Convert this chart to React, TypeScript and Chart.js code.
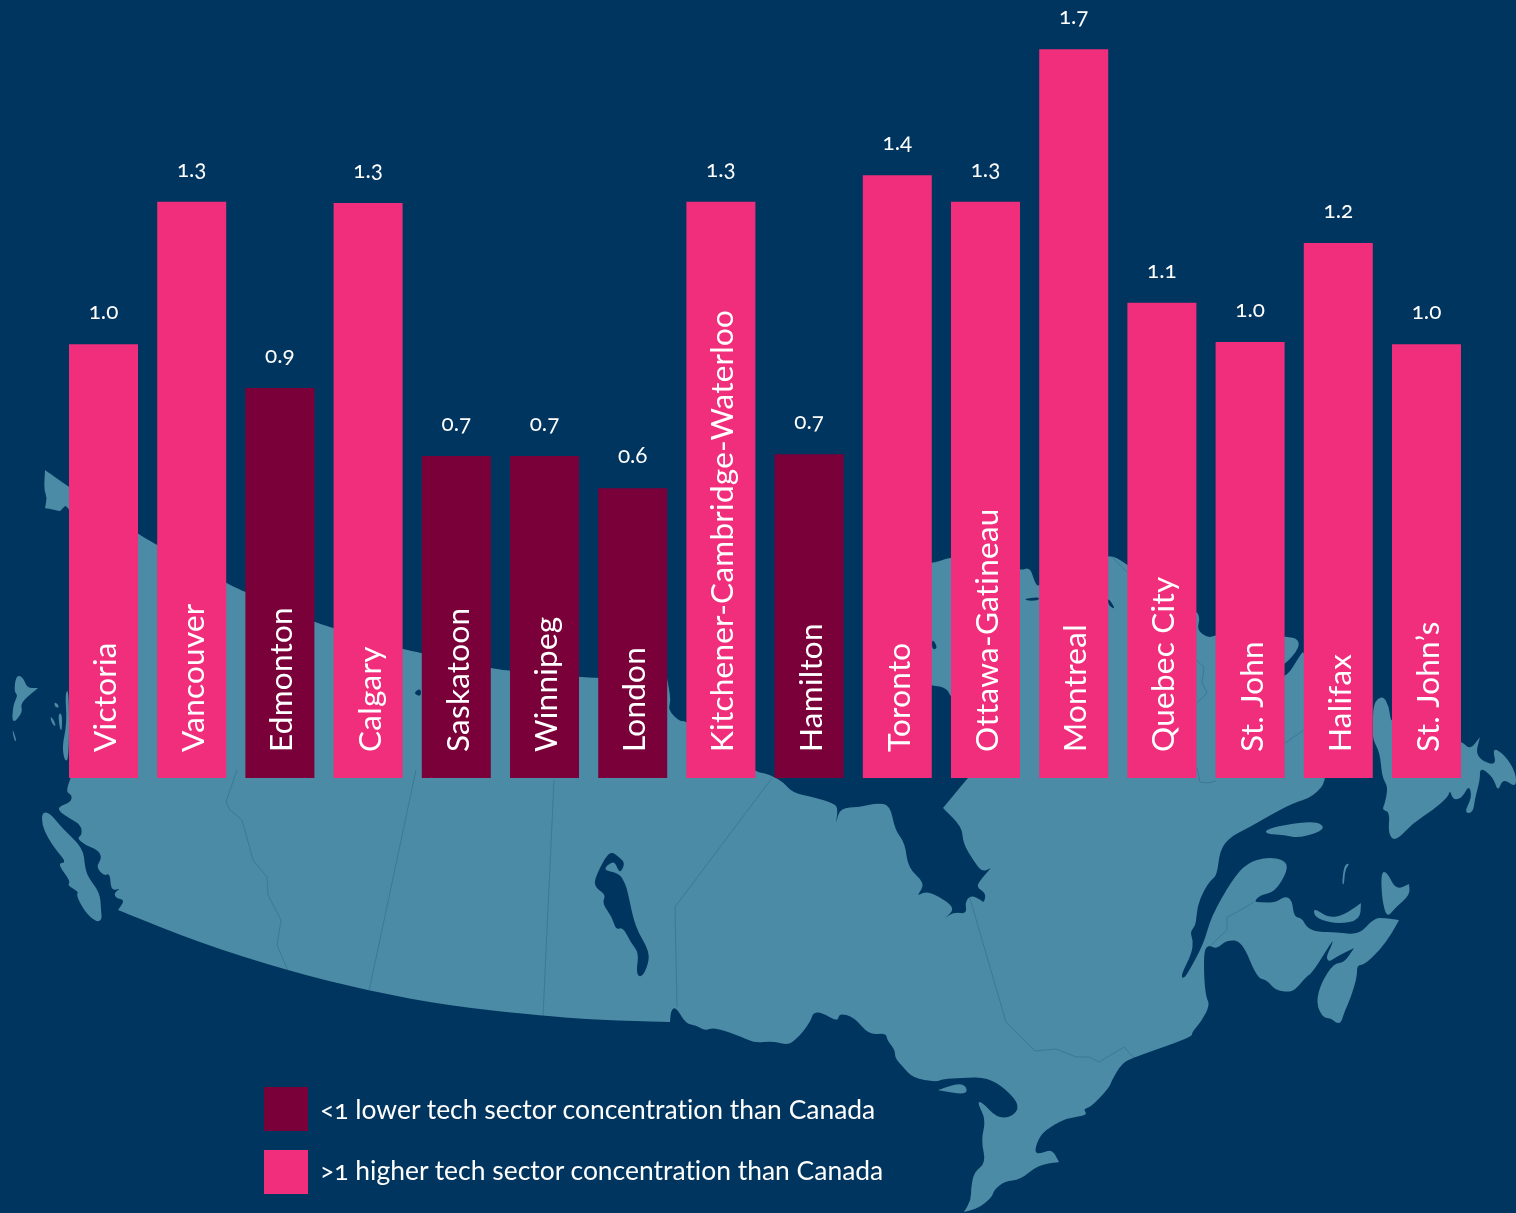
import React, { useEffect, useRef, useState } from "react";
import { Chart, registerables } from "chart.js";

Chart.register(...registerables);

const cities = ["Victoria","Vancouver","Edmonton","Calgary","Saskatoon","Winnipeg","London","Kitchener-Cambridge-Waterloo","Hamilton","Toronto","Ottawa-Gatineau","Montreal","Quebec City","St. John","Halifax","St. John’s"];
const concentration = [1.009,1.34,0.907,1.337,0.749,0.749,0.674,1.34,0.753,1.402,1.34,1.695,1.105,1.014,1.244,1.009];
const valueLabels = ["1.0","1.3","0.9","1.3","0.7","0.7","0.6","1.3","0.7","1.4","1.3","1.7","1.1","1.0","1.2","1.0"];
const legendLower = "<1 lower tech sector concentration than Canada";
const legendHigher = ">1 higher tech sector concentration than Canada";

const BG = "#00355f";
const LAND = "#4b8ba6";
const PINK = "#f02e7b";
const MAROON = "#7a0039";
const FONT = "Lato";

type P = number[];
const mainland: P = [45,470,45,470,69,487,138,534,157,545,226,583,245,592,314,622,333,628,402,649,421,653,490,668,510,671,579,677,598,678,667,678,667,678,671,700,668,710,680,722,686,720,755,772,765,773,774,777,783,782,793,793,813,797,833,803,838,808,836,823,836,823,840,808,860,807,877,803,890,805,895,830,905,843,908,868,925,883,918,895,918,895,928,891,948,902,954,910,945,918,945,918,954,912,967,914,965,902,971,895,981,900,984,903,986,893,976,887,982,878,991,868,991,868,982,872,973,860,963,843,962,827,943,808,943,808,967,779,967,779,1000,750,951,698,947,688,932,685,920,685,920,563,932,563,940,561,951,557,1000,560,1020,571,1030,567,1035,583,1039,587,1060,570,1108,553,1127,564,1160,590,1196,610,1200,618,1197,630,1208,638,1216,635,1250,630,1285,637,1297,638,1300,647,1285,665,1270,670,1285,680,1302,652,1304,652,1320,700,1329,778,1313,797,1293,803,1267,817,1250,827,1230,837,1220,850,1217,875,1211,880,1204,890,1197,907,1196,925,1190,932,1193,940,1192,953,1181,975,1183,979,1188,973,1204,943,1211,917,1232,880,1247,863,1267,857,1285,860,1288,870,1275,892,1260,895,1254,902,1260,902,1275,903,1285,896,1292,900,1294,917,1302,918,1307,928,1318,932,1336,932,1359,935,1374,918,1385,918,1399,920,1399,920,1392,933,1380,950,1364,965,1357,965,1357,977,1351,997,1344,1013,1341,1023,1336,1023,1331,1018,1323,1018,1316,1003,1321,983,1334,963,1344,963,1354,948,1354,948,1336,957,1329,962,1326,957,1331,947,1334,938,1313,972,1306,977,1295,990,1288,992,1275,990,1267,980,1257,978,1242,941,1227,940,1219,947,1214,948,1209,945,1204,950,1204,977,1206,997,1210,1005,1201,1022,1192,1032,1192,1037,1135,1057,1122,1063,1112,1080,1109,1088,1091,1107,1083,1109,1088,1115,1068,1118,1053,1125,1040,1135,1034,1152,1040,1154,1052,1149,1059,1162,1059,1162,1038,1165,1020,1180,1005,1181,994,1190,992,1197,979,1208,964,1212,964,1212,971,1200,971,1188,974,1172,986,1163,981,1140,986,1120,977,1102,982,1102,997,1118,1012,1117,1020,1106,1007,1090,987,1077,961,1078,943,1079,936,1082,913,1078,903,1067,895,1058,895,1050,887,1040,886,1033,869,1035,854,1017,839,1013,838,1022,821,1012,813,1013,811,1020,803,1032,795,1040,788,1045,772,1041,755,1043,742,1037,714,1027,705,1031,696,1025,686,1024,676,1007,671,1010,670,1022,670,1022,600,1020,544,1016,450,1006,369,991,289,971,200,943,118,910,118,910,125,900,116,898,114,893,121,888,111,891,110,873,104,876,96,867,102,858,98,850,85,845,77,838,82,835,81,825,69,818,60,812,58,807,71,802,72,795,66,792,70,779,100,700,100,600,69,502,60,511,60,511,45,508,45,508,47,497,44,490];
const islands: P[] = [
  [938,1090,938,1090,959,1083,967,1087,966,1095],
  [1314,908,1329,918,1344,915,1361,903,1361,903,1360,920,1339,924,1321,920,1314,915],
  [1381,872,1387,872,1396,890,1409,884,1409,884,1410,895,1395,908,1387,918,1382,900],
  [1344,865,1350,863,1345,870,1344,885,1342,884],
  [1265,830,1283,825,1315,821,1325,827,1317,833,1297,838,1285,835,1267,834],
  [1373,703,1383,695,1389,707,1390,717,1392,722,1461,740,1470,750,1480,737,1480,737,1475,757,1497,767,1492,747,1505,755,1516,773,1516,788,1503,778,1498,792,1493,777,1480,767,1480,780,1475,798,1473,813,1464,813,1472,797,1469,785,1462,798,1453,800,1450,790,1448,797,1433,810,1413,823,1395,842,1388,833,1390,812,1382,810,1385,803,1388,787,1382,777,1380,753,1373,740,1373,730],
  [42,812,50,813,62,828,83,848,85,867,88,877,100,893,101,910,102,920,96,922,85,912,76,895,79,892,67,885,71,882,57,863,67,863,56,850,48,838,42,825],
  [16,675,23,677,27,688,38,688,38,688,20,703,23,712,12,725,13,705,18,695,14,692],
  [12,727,17,742,14,740],
  [69,689,65,693,67,723,62,747,65,762,69,758],
  [54,702,58,704,59,708,55,707],
  [50,716,54,720,56,727,52,724],
  [58,714,62,713,62,730,60,730],
];
const waters: P[] = [
  [606,856,612,852,619,857,625,863,621,872,618,870,614,860,602,870,619,873,625,883,628,893,635,927,650,952,647,968,641,978,636,973,639,953,631,943,623,927,616,930,612,917,602,903,606,895,596,888,594,880],
  [413,693,421,688,421,697],
  [932,638,938,648,932,650],
  [1023,599,1039,597,1039,600,1030,601],
  [1108,597,1116,610,1108,605],
];
const borders: P[] = [
  [237,770,226,802,230,810,242,820,253,860,267,877,268,895,281,920,277,945,288,971],
  [416,770,369,991],
  [554,780,543,1016],
  [772,778,675,907,677,1007],
  [969,895,1006,1022,1035,1051,1056,1049,1076,1057,1089,1057,1099,1062,1124,1047,1135,1059],
  [1211,945,1227,930,1227,917,1237,912,1254,902],
  [1196,660,1204,667,1202,683,1207,693,1197,703],
  [1197,768,1200,782,1208,783,1216,781],
  [1285,743,1304,730],
  [1108,553,1127,572],
];

function tracePoly(ctx: CanvasRenderingContext2D, p: P) {
  const n = p.length / 2;
  const mid = (i: number) => {
    const a = i % n, b = (i + 1) % n;
    return [(p[a * 2] + p[b * 2]) / 2, (p[a * 2 + 1] + p[b * 2 + 1]) / 2];
  };
  ctx.beginPath();
  const s = mid(n - 1);
  ctx.moveTo(s[0], s[1]);
  for (let i = 0; i < n; i++) {
    const m = mid(i);
    ctx.quadraticCurveTo(p[i * 2], p[i * 2 + 1], m[0], m[1]);
  }
  ctx.closePath();
}
function traceLine(ctx: CanvasRenderingContext2D, p: P) {
  ctx.beginPath();
  ctx.moveTo(p[0], p[1]);
  for (let i = 2; i < p.length; i += 2) ctx.lineTo(p[i], p[i + 1]);
}

const mapPlugin = {
  id: "canadaMap",
  beforeDraw(chart: any) {
    const ctx: CanvasRenderingContext2D = chart.ctx;
    ctx.save();
    ctx.fillStyle = BG;
    ctx.fillRect(0, 0, chart.width, chart.height);
    ctx.fillStyle = LAND;
    tracePoly(ctx, mainland);
    ctx.fill();
    islands.forEach((p) => { tracePoly(ctx, p); ctx.fill(); });
    ctx.fillStyle = BG;
    waters.forEach((p) => { tracePoly(ctx, p); ctx.fill(); });
    ctx.strokeStyle = "rgba(0,53,95,0.3)";
    ctx.lineWidth = 0.7;
    borders.forEach((p) => { traceLine(ctx, p); ctx.stroke(); });
    ctx.restore();
  },
};

const labelPlugin = {
  id: "barLabels",
  afterDatasetsDraw(chart: any) {
    const ctx: any = chart.ctx;
    const bars = chart.getDatasetMeta(0).data;
    ctx.save();
    ctx.fillStyle = "#ffffff";
    bars.forEach((bar: any, i: number) => {
      ctx.save();
      ctx.translate(bar.x + 12.5, chart.chartArea.bottom - 26);
      ctx.rotate(-Math.PI / 2);
      ctx.font = `31.5px ${FONT}`;
      ctx.letterSpacing = "0.25px";
      ctx.textAlign = "left";
      ctx.fillText(cities[i], 0, 0);
      ctx.restore();
    });
    ctx.restore();
  },
};

const swatch = (top: number, color: string): React.CSSProperties => ({
  position: "absolute", left: 264, top, width: 44, height: 44, background: color,
});
const legendText = (top: number): React.CSSProperties => ({
  position: "absolute", left: 320, top, color: "#fff", font: `26.45px ${FONT}`, lineHeight: "32px", whiteSpace: "nowrap",
  fontVariantLigatures: "none", fontFeatureSettings: '"onum"',
});

export default function App() {
  const ref = useRef<HTMLCanvasElement>(null);
  const [spots, setSpots] = useState<{ x: number; y: number }[]>([]);
  useEffect(() => {
    const chart = new Chart(ref.current!, {
      type: "bar",
      data: {
        labels: cities,
        datasets: [{
          data: concentration,
          backgroundColor: concentration.map((v) => (v < 1 ? MAROON : PINK)),
          barPercentage: 1,
          categoryPercentage: 69 / 88.2,
        }],
      },
      options: {
        responsive: false,
        animation: false,
        layout: { padding: { left: 59.4, right: 45.4, top: 0, bottom: 435 } },
        plugins: { legend: { display: false }, tooltip: { enabled: false } },
        scales: {
          x: { display: false, grid: { display: false } },
          y: { display: false, min: 0, max: 778 / 430, grid: { display: false } },
        },
      },
      plugins: [mapPlugin, labelPlugin],
    });
    setSpots(chart.getDatasetMeta(0).data.map((b: any) => ({ x: b.x, y: b.y })));
    return () => chart.destroy();
  }, []);
  return (
    <div style={{ position: "absolute", left: 0, top: 0, width: 1516, height: 1213, background: BG, overflow: "hidden" }}>
      <canvas ref={ref} width={1516} height={1213} style={{ display: "block" }} />
      {spots.map((s, i) => (
        <div key={i} style={{ position: "absolute", left: s.x, top: s.y - 47, transform: "translateX(-50%)", color: "#fff", font: `22.5px ${FONT}`, lineHeight: "28px", fontFeatureSettings: '"onum"' }}>
          {valueLabels[i]}
        </div>
      ))}
      <div style={swatch(1087, MAROON)} />
      <div style={legendText(1093)}>{legendLower}</div>
      <div style={swatch(1150, PINK)} />
      <div style={legendText(1154)}>{legendHigher}</div>
    </div>
  );
}
